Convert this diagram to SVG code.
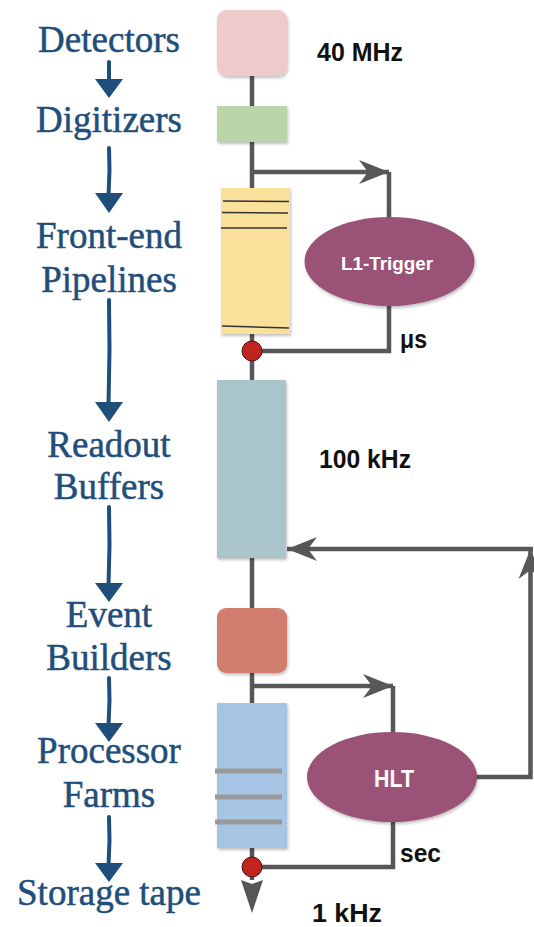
<svg xmlns="http://www.w3.org/2000/svg" width="534" height="927" viewBox="0 0 534 927">
<defs>
<style>
.lbl{font-family:"Liberation Serif","Times New Roman",serif;font-size:37px;fill:#1F4E7A;stroke:#1F4E7A;stroke-width:0.5;text-anchor:middle}
.rate{font-family:"Liberation Sans",Arial,sans-serif;font-weight:bold;font-size:26px;fill:#111}
.etxt{font-family:"Liberation Sans",Arial,sans-serif;font-weight:bold;fill:#fff;text-anchor:middle}
.ln{stroke:#575757;stroke-width:4.5;fill:none}
.ln2{stroke:#575757;stroke-width:4.5;fill:none;marker-end:url(#ah)}
.larr{stroke:#1F4E7A;stroke-width:4;stroke-linecap:round;fill:none}
.ltri{fill:#1F4E7A}
.ell{fill:#9A5276}
.dot{fill:#C0241C;stroke:#4a1212;stroke-width:1}
.pl{stroke:#333;stroke-width:1.6}
.gb{stroke:#999;stroke-width:5}
</style>
<marker id="ah" viewBox="-32 -13 34 26" refX="0" refY="0" markerWidth="34" markerHeight="26" markerUnits="userSpaceOnUse" orient="auto">
<path d="M0 0 L-30 -12 L-21 0 L-30 12 Z" fill="#575757"/>
</marker>
<filter id="sh" x="-20%" y="-20%" width="140%" height="140%">
<feDropShadow dx="1" dy="2" stdDeviation="1.5" flood-color="#000" flood-opacity="0.25"/>
</filter>
</defs>
<rect width="534" height="927" fill="#fff"/>

<g id="left-labels">
<text class="lbl" x="109" y="52">Detectors</text>
<text class="lbl" x="109" y="132">Digitizers</text>
<text class="lbl" x="109" y="248">Front-end</text>
<text class="lbl" x="109" y="292">Pipelines</text>
<text class="lbl" x="109" y="457">Readout</text>
<text class="lbl" x="109" y="499">Buffers</text>
<text class="lbl" x="109" y="627">Event</text>
<text class="lbl" x="109" y="670">Builders</text>
<text class="lbl" x="109" y="763">Processor</text>
<text class="lbl" x="109" y="807">Farms</text>
<text class="lbl" x="109" y="905">Storage tape</text>
</g>

<g id="left-arrows">
<path class="larr" d="M109 62 L109 82"/><path class="ltri" d="M95 79 L123 79 L109 98 Z"/>
<path class="larr" d="M109 148 L109.5 170 L108.5 196"/><path class="ltri" d="M95 193 L123 193 L109 213 Z"/>
<path class="larr" d="M109 300 L109.5 350 L108.5 405"/><path class="ltri" d="M95 402 L123 402 L109 422 Z"/>
<path class="larr" d="M109 507 L109.5 545 L108.5 586"/><path class="ltri" d="M95 583 L123 583 L109 602 Z"/>
<path class="larr" d="M109 678 L109.5 700 L108.5 726"/><path class="ltri" d="M95 723 L123 723 L109 742 Z"/>
<path class="larr" d="M109 817 L109.5 840 L108.5 866"/><path class="ltri" d="M95 863 L123 863 L109 882 Z"/>
</g>

<g id="connectors">
<path class="ln" d="M252 76 L252 106"/>
<path class="ln" d="M252 142 L252 188"/>
<path class="ln2" d="M250 172 L389 172"/>
<path class="ln" d="M389 172 L389 218"/>
<path class="ln" d="M389 305 L389 351 L252 351"/>
<path class="ln" d="M252 334 L252 380"/>
<path class="ln" d="M252 558 L252 608"/>
<path class="ln" d="M252 673 L252 703"/>
<path class="ln2" d="M250 686 L393 686"/>
<path class="ln" d="M393 686 L393 733"/>
<path class="ln" d="M393 821 L393 867 L252 867"/>
<path class="ln" d="M252 848 L252 880"/>
<path class="ln2" d="M476 777 L530.5 777 L530.5 549"/>
<path class="ln2" d="M533 549 L287 549"/>
<path d="M241 880 L252 884 L263 880 L252 913 Z" fill="#575757"/>
</g>

<g id="detectors"><rect x="217" y="10" width="70" height="66" rx="9" fill="#EDCBCB" filter="url(#sh)"/></g>
<g id="digitizers"><rect x="217" y="106" width="70" height="36" fill="#BAD5A8" filter="url(#sh)"/></g>
<g id="pipelines">
<rect x="221" y="188" width="69" height="146" fill="#F9E19C" filter="url(#sh)"/>
<line class="pl" x1="223" y1="201" x2="289" y2="201.5"/>
<line class="pl" x1="222" y1="212.5" x2="288" y2="213"/>
<line class="pl" x1="221" y1="228" x2="287" y2="228"/>
<line class="pl" x1="222" y1="326" x2="289" y2="328"/>
</g>
<g id="l1-trigger">
<ellipse class="ell" cx="389.5" cy="261.5" rx="85" ry="44.5" filter="url(#sh)"/>
<text class="etxt" x="387" y="270" font-size="19" textLength="92" lengthAdjust="spacingAndGlyphs">L1-Trigger</text>
</g>
<g id="dot1"><circle class="dot" cx="252" cy="351" r="10"/></g>
<g id="readout"><rect x="217" y="380" width="69" height="178" fill="#A9C5CB" filter="url(#sh)"/></g>
<g id="event-builders"><rect x="217" y="608" width="70" height="65" rx="9" fill="#D27E6E" filter="url(#sh)"/></g>
<g id="processor">
<rect x="217" y="703" width="70" height="145" fill="#A6C5E5" filter="url(#sh)"/>
<line class="gb" x1="215" y1="771" x2="282" y2="771"/>
<line class="gb" x1="215" y1="797" x2="282" y2="797"/>
<line class="gb" x1="215" y1="822" x2="282" y2="822"/>
</g>
<g id="hlt">
<ellipse class="ell" cx="392" cy="777" rx="85" ry="45" filter="url(#sh)"/>
<text class="etxt" x="394" y="787" font-size="23" textLength="40" lengthAdjust="spacingAndGlyphs">HLT</text>
</g>
<g id="dot2"><circle class="dot" cx="252" cy="867" r="10"/></g>

<g id="rates">
<text class="rate" x="317" y="61" textLength="86" lengthAdjust="spacingAndGlyphs">40 MHz</text>
<text class="rate" x="319" y="468" textLength="92" lengthAdjust="spacingAndGlyphs">100 kHz</text>
<text class="rate" x="400" y="348" textLength="27" lengthAdjust="spacingAndGlyphs">μs</text>
<text class="rate" x="400" y="862" textLength="41" lengthAdjust="spacingAndGlyphs">sec</text>
<text class="rate" x="312" y="922" textLength="70" lengthAdjust="spacingAndGlyphs">1 kHz</text>
</g>
</svg>
